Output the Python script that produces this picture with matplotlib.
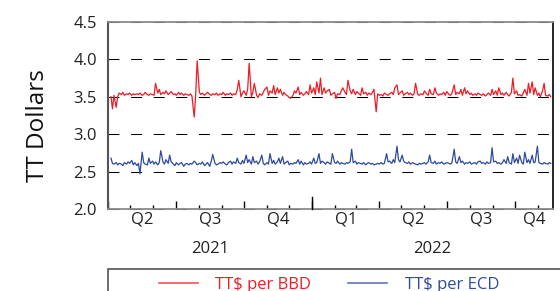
import pandas as pd
import matplotlib.pyplot as plt
import matplotlib.dates as mdates
import matplotlib.transforms as mtrans
from matplotlib.patches import Rectangle

plt.rcParams['font.family'] = ['Open Sans', 'DejaVu Sans']

# values, Mon / Wed / Fri from 5 Apr 2021, 5 weeks per row
bbd = [
    3.50, 3.34, 3.52, 3.36, 3.50, 3.55, 3.53, 3.56, 3.52, 3.54, 3.53, 3.55, 3.52, 3.54, 3.53,
    3.54, 3.53, 3.55, 3.52, 3.53, 3.56, 3.53, 3.52, 3.54, 3.53, 3.52, 3.68, 3.55, 3.60, 3.53,
    3.56, 3.54, 3.58, 3.53, 3.55, 3.57, 3.53, 3.54, 3.52, 3.56, 3.53, 3.55, 3.52, 3.54, 3.53,
    3.52, 3.54, 3.51, 3.23, 3.52, 3.98, 3.56, 3.53, 3.55, 3.52, 3.54, 3.56, 3.53, 3.52, 3.54,
    3.53, 3.55, 3.52, 3.54, 3.53, 3.56, 3.52, 3.54, 3.53, 3.55, 3.52, 3.54, 3.53, 3.60, 3.72,
    3.50, 3.55, 3.58, 3.52, 3.60, 3.95, 3.50, 3.56, 3.68, 3.52, 3.49, 3.54, 3.52, 3.56, 3.60,
    3.63, 3.52, 3.58, 3.55, 3.65, 3.53, 3.62, 3.55, 3.60, 3.52, 3.56, 3.53, 3.51, 3.49, 3.48,
    3.52, 3.58, 3.55, 3.63, 3.53, 3.56, 3.52, 3.54, 3.57, 3.53, 3.66, 3.55, 3.62, 3.53, 3.70,
    3.55, 3.75, 3.53, 3.62, 3.55, 3.58, 3.60, 3.52, 3.54, 3.56, 3.48, 3.54, 3.53, 3.58, 3.62,
    3.56, 3.53, 3.72, 3.58, 3.54, 3.60, 3.53, 3.57, 3.55, 3.52, 3.62, 3.54, 3.56, 3.52, 3.55,
    3.53, 3.56, 3.60, 3.30, 3.54, 3.52, 3.53, 3.51, 3.55, 3.53, 3.52, 3.54, 3.56, 3.53, 3.62,
    3.66, 3.53, 3.55, 3.58, 3.52, 3.54, 3.56, 3.53, 3.55, 3.52, 3.54, 3.68, 3.53, 3.52, 3.54,
    3.53, 3.58, 3.55, 3.52, 3.60, 3.54, 3.53, 3.62, 3.55, 3.52, 3.54, 3.53, 3.56, 3.52, 3.57,
    3.53, 3.52, 3.55, 3.66, 3.53, 3.56, 3.54, 3.60, 3.52, 3.62, 3.54, 3.58, 3.53, 3.55, 3.52,
    3.54, 3.52, 3.55, 3.53, 3.52, 3.54, 3.51, 3.53, 3.55, 3.52, 3.60, 3.53, 3.58, 3.52, 3.62,
    3.53, 3.55, 3.52, 3.56, 3.53, 3.51, 3.56, 3.75, 3.54, 3.58, 3.52, 3.53, 3.51, 3.55, 3.60,
    3.52, 3.68, 3.55, 3.70, 3.53, 3.62, 3.52, 3.55, 3.50, 3.58, 3.68, 3.52, 3.51, 3.53, 3.50,
]
ecd = [
    2.68, 2.61, 2.60, 2.62, 2.59, 2.61, 2.60, 2.58, 2.62, 2.60, 2.63, 2.61, 2.65, 2.59, 2.62,
    2.58, 2.61, 2.47, 2.76, 2.62, 2.60, 2.59, 2.68, 2.61, 2.64, 2.60, 2.63, 2.59, 2.62, 2.78,
    2.63, 2.60, 2.66, 2.61, 2.72, 2.63, 2.60, 2.58, 2.62, 2.59, 2.61, 2.62, 2.57, 2.60, 2.61,
    2.59, 2.61, 2.60, 2.64, 2.62, 2.59, 2.61, 2.60, 2.63, 2.58, 2.60, 2.62, 2.57, 2.64, 2.73,
    2.61, 2.59, 2.60, 2.62, 2.61, 2.63, 2.60, 2.59, 2.62, 2.64, 2.60, 2.63, 2.61, 2.68, 2.62,
    2.60, 2.65, 2.61, 2.72, 2.62, 2.66, 2.60, 2.70, 2.62, 2.64, 2.60, 2.63, 2.72, 2.61, 2.59,
    2.62, 2.60, 2.74, 2.61, 2.65, 2.60, 2.63, 2.68, 2.61, 2.70, 2.60, 2.62, 2.64, 2.59, 2.61,
    2.60, 2.62, 2.61, 2.66, 2.60, 2.64, 2.59, 2.62, 2.60, 2.61, 2.63, 2.60, 2.68, 2.61, 2.62,
    2.74, 2.61, 2.64, 2.62, 2.60, 2.63, 2.61, 2.60, 2.74, 2.62, 2.61, 2.64, 2.60, 2.62, 2.61,
    2.60, 2.62, 2.61, 2.63, 2.80, 2.62, 2.64, 2.60, 2.62, 2.61, 2.60, 2.62, 2.59, 2.61, 2.62,
    2.60, 2.61, 2.59, 2.60, 2.61, 2.60, 2.62, 2.60, 2.61, 2.74, 2.63, 2.64, 2.61, 2.66, 2.62,
    2.84, 2.66, 2.63, 2.72, 2.64, 2.62, 2.61, 2.63, 2.60, 2.62, 2.61, 2.60, 2.59, 2.61, 2.60,
    2.61, 2.62, 2.60, 2.63, 2.72, 2.62, 2.61, 2.64, 2.60, 2.62, 2.61, 2.63, 2.60, 2.61, 2.62,
    2.61, 2.60, 2.62, 2.80, 2.63, 2.61, 2.70, 2.62, 2.64, 2.60, 2.62, 2.61, 2.63, 2.60, 2.61,
    2.62, 2.60, 2.63, 2.64, 2.61, 2.62, 2.60, 2.63, 2.61, 2.62, 2.82, 2.63, 2.64, 2.61, 2.62,
    2.60, 2.62, 2.66, 2.61, 2.70, 2.62, 2.60, 2.74, 2.62, 2.68, 2.61, 2.72, 2.62, 2.60, 2.76,
    2.62, 2.66, 2.61, 2.72, 2.62, 2.63, 2.84, 2.62, 2.61, 2.60, 2.62, 2.61, 2.60, 2.62, 2.61,
]
yticks = [2.0, 2.5, 3.0, 3.5, 4.0, 4.5]
x_start, x_end = pd.Timestamp("2021-04-01"), pd.Timestamp("2022-11-21")

dates = pd.bdate_range(start="2021-04-05", periods=len(bbd), freq="C", weekmask="Mon Wed Fri")

fig = plt.figure(figsize=(5.6, 2.91), dpi=100)
ax = fig.add_axes([108/560, 1-209/291, 445/560, 187/291])

for y in yticks:
    ax.axhline(y, color="black", lw=0.75, ls=(0, (10.5, 11.2)), zorder=1, clip_on=False)

l1, = ax.plot(dates, bbd, color="#ee1c25", lw=0.9, zorder=3)
l2, = ax.plot(dates, ecd, color="#2d4b9e", lw=0.9, zorder=3)

ax.set_xlim(x_start, x_end)
ax.set_ylim(2.0, 4.5)
ax.set_yticks(yticks)
ax.set_yticklabels(["%.1f" % v for v in yticks])
ax.tick_params(axis="y", length=0, pad=8, labelsize=12, labelcolor="#222222")

months = pd.date_range(x_start, x_end, freq="MS")
quarters = pd.date_range(x_start, x_end, freq="QS")
ax.set_xticks(quarters)
ax.set_xticks([m for m in months if m not in quarters], minor=True)
ax.set_xticklabels([])
ax.tick_params(axis="x", which="major", direction="in", length=5.8, width=1, color="black")
ax.tick_params(axis="x", which="minor", direction="in", length=2.6, width=1, color="black")

trans = mtrans.blended_transform_factory(ax.transData, ax.transAxes)
# longer tick at the year boundary
yb = mdates.date2num(pd.Timestamp("2022-01-01"))
ax.plot([yb, yb], [0, 12/187], color="black", lw=1, transform=trans, clip_on=False, zorder=4)

# quarter labels
for q in pd.date_range("2021-04-01", "2022-10-01", freq="QS"):
    a = max(q, x_start)
    b = min(q + pd.offsets.QuarterBegin(startingMonth=1), x_end)
    mid = a + (b - a) / 2
    ax.text(mdates.date2num(mid), -11/187, "Q%d" % q.quarter, transform=trans,
            ha="center", va="center", fontsize=12, color="#222222")
for yr in [2021, 2022]:
    a = max(pd.Timestamp("%d-01-01" % yr), x_start)
    b = min(pd.Timestamp("%d-01-01" % (yr + 1)), x_end)
    mid = a + (b - a) / 2
    ax.text(mdates.date2num(mid), -40/187, str(yr), transform=trans,
            ha="center", va="center", fontsize=12, color="#222222")

for s in ["top", "bottom"]:
    ax.spines[s].set_color("#8a8a8a")
    ax.spines[s].set_linewidth(1.3)
ax.spines["left"].set_color("#555555")
ax.spines["left"].set_linewidth(1.5)
ax.spines["right"].set_color("black")
ax.spines["right"].set_linewidth(1.2)

fig.text(38/560, 1-126/291, "TT Dollars", rotation=90, ha="center", va="center",
         fontsize=17.5, color="#111111")

# legend, cut off at the bottom like the original
fig.patches.append(Rectangle((108/560, 1-320/291), 500/560, 51/291, transform=fig.transFigure,
                             fill=False, edgecolor="#555555", lw=1.2))
leg = fig.legend([l1, l2], ["TT$ per BBD", "TT$ per ECD"], loc="upper left",
                 bbox_to_anchor=(152/560, 1-270/291), ncol=2, frameon=False, fontsize=12,
                 handlelength=2.35, handletextpad=1.05, columnspacing=2.2, borderaxespad=0)
for t, c in zip(leg.get_texts(), ["#ee1c25", "#2d4b9e"]):
    t.set_color(c)
for h in leg.get_lines():
    h.set_alpha(0.75)
    h.set_linewidth(1.2)

fig.savefig("out.png", dpi=100)
